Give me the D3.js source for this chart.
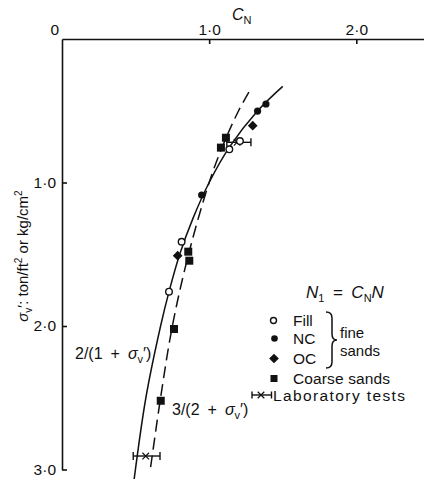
<!DOCTYPE html>
<html>
<head>
<meta charset="utf-8">
<script src="https://cdn.jsdelivr.net/npm/d3@7"></script>
<style>
  body { margin: 0; background: #fff; }
  svg { font-family: "Liberation Sans", Arial, sans-serif; }
  text { fill: #111; }
</style>
</head>
<body>
<svg id="chart" width="424" height="479"></svg>
<script>
// curves (sigma_v', C_N)
let solidSigma = [0.33, 0.5, 0.75, 1.0, 1.25, 1.5, 1.75, 2.0, 2.5, 3.07]
let solidCN    = [1.50, 1.33, 1.14, 1.00, 0.89, 0.80, 0.73, 0.67, 0.57, 0.49]
let dashSigma  = [0.37, 0.5, 0.75, 1.0, 1.5, 2.0, 2.5, 3.0]
let dashCN     = [1.27, 1.20, 1.09, 1.00, 0.86, 0.75, 0.67, 0.60]

// data points [C_N, sigma_v']
let fillPts   = [[1.209, 0.711], [1.137, 0.769], [0.813, 1.413], [0.727, 1.761]]
let ncPts     = [[1.386, 0.453], [1.329, 0.502], [0.949, 1.087]]
let ocPts     = [[1.296, 0.604], [0.786, 1.510]]
let coarsePts = [[1.114, 0.688], [1.080, 0.757], [0.858, 1.482], [0.865, 1.545], [0.761, 2.021], [0.671, 2.521]]
// lab tests [C_N, low, high, sigma_v']
let labPts    = [[1.19, 1.12, 1.284, 0.72], [0.569, 0.484, 0.666, 2.906]]

let xTicks = [1, 2]
let yTicks = [1, 2, 3]
let tickLabels = ["1·0", "2·0", "3·0"]

let svg = d3.select("#chart")

let x = d3.scaleLinear().domain([0, 2.46]).range([62, 424])
let y = d3.scaleLinear().domain([0, 3]).range([39, 469.5])

let fmt = d => tickLabels[d - 1]

let xAxis = d3.axisTop(x)
    .tickValues(xTicks)
    .tickFormat(fmt)
    .tickSize(-5)
    .tickSizeOuter(0)
    .tickPadding(4)

let yAxis = d3.axisLeft(y)
    .tickValues(yTicks)
    .tickFormat(fmt)
    .tickSize(-5)
    .tickSizeOuter(0)
    .tickPadding(6)

let gX = svg.append("g")
    .attr("transform", "translate(0," + y(0) + ")")
    .call(xAxis)
let gY = svg.append("g")
    .attr("transform", "translate(" + x(0) + ",0)")
    .call(yAxis)

svg.selectAll(".domain, .tick line").attr("stroke", "#111").attr("stroke-width", 1.6)
svg.selectAll(".tick text")
    .style("font-family", "Liberation Sans, Arial, sans-serif")
    .style("font-size", "15.5px")
    .attr("fill", "#111")

svg.append("text")
    .attr("x", x(0) - 3)
    .attr("y", y(0) - 4)
    .attr("text-anchor", "end")
    .style("font-size", "15.5px")
    .text("0")

// C_N title
let cn = svg.append("text")
    .attr("x", 232)
    .attr("y", 20)
    .style("font-size", "16px")
cn.append("tspan").style("font-style", "italic").text("C")
cn.append("tspan").attr("dy", 4).style("font-size", "11px").text("N")

// y label
let yl = svg.append("text")
    .attr("transform", "translate(28,256) rotate(-90)")
    .attr("text-anchor", "middle")
    .style("font-size", "15px")
yl.append("tspan").style("font-style", "italic").text("σ")
yl.append("tspan").attr("dy", 4).style("font-size", "10px").text("v")
yl.append("tspan").attr("dy", -4).text("′: ton/ft")
yl.append("tspan").attr("dy", -6).style("font-size", "10px").text("2")
yl.append("tspan").attr("dy", 6).text(" or kg/cm")
yl.append("tspan").attr("dy", -6).style("font-size", "10px").text("2")

// curves
let line = d3.line()
    .x(d => x(d[0]))
    .y(d => y(d[1]))
    .curve(d3.curveCatmullRom)

svg.append("path")
    .datum(solidCN.map((c, i) => [c, solidSigma[i]]))
    .attr("d", line)
    .attr("fill", "none")
    .attr("stroke", "#111")
    .attr("stroke-width", 1.5)

svg.append("path")
    .datum(dashCN.map((c, i) => [c, dashSigma[i]]))
    .attr("d", line)
    .attr("fill", "none")
    .attr("stroke", "#111")
    .attr("stroke-width", 1.5)
    .attr("stroke-dasharray", "12,6")

// markers
let marks = svg.append("g")

marks.selectAll(".coarse")
    .data(coarsePts)
    .enter().append("rect")
        .attr("x", d => x(d[0]) - 4)
        .attr("y", d => y(d[1]) - 4)
        .attr("width", 8)
        .attr("height", 8)
        .attr("fill", "#111")

marks.selectAll(".oc")
    .data(ocPts)
    .enter().append("path")
        .attr("d", d3.symbol(d3.symbolDiamond2 || d3.symbolDiamond, 60))
        .attr("transform", d => "translate(" + x(d[0]) + "," + y(d[1]) + ")")
        .attr("fill", "#111")

marks.selectAll(".nc")
    .data(ncPts)
    .enter().append("circle")
        .attr("cx", d => x(d[0]))
        .attr("cy", d => y(d[1]))
        .attr("r", 3.6)
        .attr("fill", "#111")

// lab tests
let lab = marks.selectAll(".lab")
    .data(labPts)
    .enter().append("g")
lab.append("line")
    .attr("x1", d => x(d[1])).attr("x2", d => x(d[2]))
    .attr("y1", d => y(d[3])).attr("y2", d => y(d[3]))
    .attr("stroke", "#111").attr("stroke-width", 1.4)
lab.append("line")
    .attr("x1", d => x(d[1])).attr("x2", d => x(d[1]))
    .attr("y1", d => y(d[3]) - 4).attr("y2", d => y(d[3]) + 4)
    .attr("stroke", "#111").attr("stroke-width", 1.4)
lab.append("line")
    .attr("x1", d => x(d[2])).attr("x2", d => x(d[2]))
    .attr("y1", d => y(d[3]) - 4).attr("y2", d => y(d[3]) + 4)
    .attr("stroke", "#111").attr("stroke-width", 1.4)
lab.append("path")
    .attr("d", d3.symbol(d3.symbolX || d3.symbolCross, 30))
    .attr("transform", d => "translate(" + x(d[0]) + "," + y(d[3]) + ")")
    .attr("fill", "#111")
    .attr("stroke", "#111")
    .attr("stroke-width", 1.2)

marks.selectAll(".fill")
    .data(fillPts)
    .enter().append("circle")
        .attr("cx", d => x(d[0]))
        .attr("cy", d => y(d[1]))
        .attr("r", 3.3)
        .attr("fill", "#fff")
        .attr("stroke", "#111")
        .attr("stroke-width", 1.4)

// curve labels
let l1 = svg.append("text").attr("x", 75).attr("y", 359).style("font-size", "16px")
l1.append("tspan").text("2/(1\u2002+\u2002")
l1.append("tspan").style("font-style", "italic").text("σ")
l1.append("tspan").attr("dy", 4).style("font-size", "11px").text("v")
l1.append("tspan").attr("dy", -4).text("′)")

let l2 = svg.append("text").attr("x", 172).attr("y", 415).style("font-size", "16px")
l2.append("tspan").text("3/(2\u2002+\u2002")
l2.append("tspan").style("font-style", "italic").text("σ")
l2.append("tspan").attr("dy", 4).style("font-size", "11px").text("v")
l2.append("tspan").attr("dy", -4).text("′)")

let eq = svg.append("text").attr("x", 306).attr("y", 298).style("font-size", "17px")
eq.append("tspan").style("font-style", "italic").text("N")
eq.append("tspan").attr("dy", 4).style("font-size", "11px").text("1")
eq.append("tspan").attr("dy", -4).text("\u2002=\u2002")
eq.append("tspan").style("font-style", "italic").text("C")
eq.append("tspan").attr("dy", 4).style("font-size", "11px").text("N")
eq.append("tspan").attr("dy", -4).style("font-style", "italic").text("N")

// legend
let leg = svg.append("g").style("font-size", "15.5px")
leg.append("circle").attr("cx", 273.5).attr("cy", 320.5).attr("r", 3)
    .attr("fill", "#fff").attr("stroke", "#111").attr("stroke-width", 1.4)
leg.append("circle").attr("cx", 274.5).attr("cy", 338.5).attr("r", 3.3).attr("fill", "#111")
leg.append("path").attr("d", d3.symbol(d3.symbolDiamond2 || d3.symbolDiamond, 60))
    .attr("transform", "translate(274,358.5)").attr("fill", "#111")
leg.append("rect").attr("x", 270.5).attr("y", 375).attr("width", 7).attr("height", 7).attr("fill", "#111")
leg.append("line").attr("x1", 252).attr("x2", 271.5).attr("y1", 395).attr("y2", 395)
    .attr("stroke", "#111").attr("stroke-width", 1.4)
leg.selectAll(".cap").data([252, 271.5]).enter().append("line")
    .attr("x1", d => d).attr("x2", d => d).attr("y1", 391.5).attr("y2", 398.5)
    .attr("stroke", "#111").attr("stroke-width", 1.4)
leg.append("path").attr("d", d3.symbol(d3.symbolX || d3.symbolCross, 30))
    .attr("transform", "translate(261,395)").attr("stroke", "#111").attr("stroke-width", 1.2)

let legText = [["Fill", 293, 326, null], ["NC", 293, 344, null], ["OC", 293, 364, null],
               ["Coarse sands", 293, 384, 97], ["Laboratory tests", 273, 401, 132]]
leg.selectAll(".lt").data(legText).enter().append("text")
    .attr("x", d => d[1]).attr("y", d => d[2])
    .attr("textLength", d => d[3])
    .text(d => d[0])

leg.append("path")
    .attr("d", "M326,312 Q332,312 332,318 L332,334 Q332,340 337,340 Q332,340 332,346 L332,362 Q332,368 326,368")
    .attr("fill", "none").attr("stroke", "#111").attr("stroke-width", 1.5)
leg.append("text").attr("x", 340).attr("y", 338).style("font-size", "15px").text("fine")
leg.append("text").attr("x", 340).attr("y", 356).style("font-size", "15px").text("sands")
</script>
</body>
</html>
